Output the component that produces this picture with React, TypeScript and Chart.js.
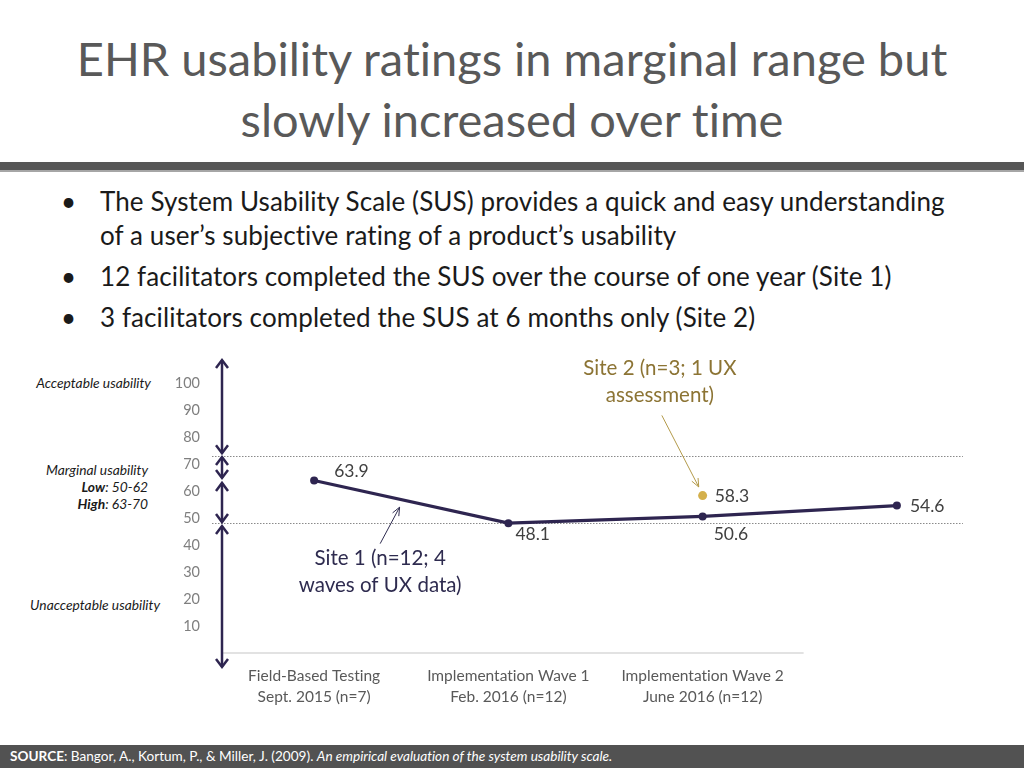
import React, { useEffect, useRef } from "react";
import { Chart, registerables } from "chart.js";

Chart.register(...registerables);

// ---- data ----
const categories: string[][] = [
  ["Field-Based Testing", "Sept. 2015 (n=7)"],
  ["Implementation Wave 1", "Feb. 2016 (n=12)"],
  ["Implementation Wave 2", "June 2016 (n=12)"],
];
const site1Values = [63.9, 48.1, 50.6, 54.6];
const site2Values: (number | null)[] = [null, null, 58.3, null];
const yMin = 0;
const yMax = 100;
const yStep = 10;
// zone boundaries (dotted lines) and the double-arrow spans on the y scale
const zoneLines = [73, 48];
const zoneArrows: [number, number][] = [
  [108.5, 74],
  [72.6, 64.8],
  [63, 48.5],
  [47, -5.2],
];
const site1Label = ["Site 1 (n=12; 4", "waves of UX data)"];
const site2Label = ["Site 2 (n=3; 1 UX", "assessment)"];

const FONT = "Lato";
const LINE = "#2e2550";
const GOLD = "#d4b04c";

function vArrow(ctx: CanvasRenderingContext2D, x: number, y1: number, y2: number) {
  const hw = 6, hh = 8;
  ctx.beginPath();
  ctx.moveTo(x, y1);
  ctx.lineTo(x, y2);
  ctx.stroke();
  ctx.beginPath();
  ctx.moveTo(x - hw, y1 + hh);
  ctx.lineTo(x, y1);
  ctx.lineTo(x + hw, y1 + hh);
  ctx.stroke();
  ctx.beginPath();
  ctx.moveTo(x - hw, y2 - hh);
  ctx.lineTo(x, y2);
  ctx.lineTo(x + hw, y2 - hh);
  ctx.stroke();
}

function lineArrow(ctx: CanvasRenderingContext2D, x1: number, y1: number, x2: number, y2: number) {
  const a = Math.atan2(y2 - y1, x2 - x1);
  const h = 9, s = 0.4;
  ctx.beginPath();
  ctx.moveTo(x1, y1);
  ctx.lineTo(x2, y2);
  ctx.stroke();
  ctx.beginPath();
  ctx.moveTo(x2 - h * Math.cos(a - s), y2 - h * Math.sin(a - s));
  ctx.lineTo(x2, y2);
  ctx.lineTo(x2 - h * Math.cos(a + s), y2 - h * Math.sin(a + s));
  ctx.stroke();
}

const overlayPlugin = {
  id: "overlay",
  beforeDatasetsDraw(chart: any) {
    const ctx: CanvasRenderingContext2D = chart.ctx;
    const xs = chart.scales.x;
    const ys = chart.scales.y;
    const area = chart.chartArea;
    ctx.save();
    // x axis base line (only under the three categories)
    ctx.strokeStyle = "#d9d9d9";
    ctx.lineWidth = 1.5;
    ctx.beginPath();
    ctx.moveTo(area.left + 5, ys.getPixelForValue(0));
    ctx.lineTo(xs.getPixelForValue(2.52), ys.getPixelForValue(0));
    ctx.stroke();
    // dotted zone lines
    ctx.strokeStyle = "#8a8a8a";
    ctx.lineWidth = 1;
    ctx.setLineDash([1.5, 1.5]);
    zoneLines.forEach((v) => {
      const y = Math.round(ys.getPixelForValue(v)) + 0.5;
      ctx.beginPath();
      ctx.moveTo(area.left - 5, y);
      ctx.lineTo(xs.getPixelForValue(3.34), y);
      ctx.stroke();
    });
    ctx.restore();
  },
  afterDraw(chart: any) {
    const ctx: CanvasRenderingContext2D = chart.ctx;
    const xs = chart.scales.x;
    const ys = chart.scales.y;
    const area = chart.chartArea;
    ctx.save();
    // zone double arrows
    ctx.strokeStyle = LINE;
    ctx.lineWidth = 2.5;
    zoneArrows.forEach(([a, b]) => {
      vArrow(ctx, area.left + 5, ys.getPixelForValue(a), ys.getPixelForValue(b));
    });
    // data labels
    ctx.fillStyle = "#404040";
    ctx.font = `17.5px ${FONT}`;
    ctx.textBaseline = "middle";
    ctx.textAlign = "left";
    const m1 = chart.getDatasetMeta(0).data;
    const offs: [number, number][] = [
      [20, -9],
      [7, 11],
      [11, 18],
      [13, 1],
    ];
    site1Values.forEach((v, i) => {
      const p = m1[i];
      if (!p) return;
      ctx.fillText(v.toFixed(1), p.x + offs[i][0], p.y + offs[i][1]);
    });
    const m2 = chart.getDatasetMeta(1).data;
    site2Values.forEach((v, i) => {
      if (v == null) return;
      const p = m2[i];
      if (!p) return;
      ctx.fillText(v.toFixed(1), p.x + 12, p.y + 1);
    });
    // Site 1 annotation
    ctx.font = `20.5px ${FONT}`;
    ctx.textAlign = "center";
    ctx.fillStyle = "#2e2b4f";
    const s1x = xs.getPixelForValue(0.34);
    ctx.fillText(site1Label[0], s1x, ys.getPixelForValue(35));
    ctx.fillText(site1Label[1], s1x, ys.getPixelForValue(25));
    ctx.strokeStyle = "#2e2b4f";
    ctx.lineWidth = 1;
    lineArrow(ctx, xs.getPixelForValue(0.34), ys.getPixelForValue(40.5), xs.getPixelForValue(0.44), ys.getPixelForValue(54));
    // Site 2 annotation
    ctx.fillStyle = "#8c7434";
    const s2x = xs.getPixelForValue(1.78);
    ctx.fillText(site2Label[0], s2x, ys.getPixelForValue(105.5));
    ctx.fillText(site2Label[1], s2x, ys.getPixelForValue(95.5));
    ctx.strokeStyle = "#b39a4a";
    lineArrow(ctx, xs.getPixelForValue(1.79), ys.getPixelForValue(88), xs.getPixelForValue(1.98), ys.getPixelForValue(61.5));
    ctx.restore();
  },
};

function ChartCanvas() {
  const ref = useRef<HTMLCanvasElement>(null);
  useEffect(() => {
    if (!ref.current) return;
    const chart = new Chart(ref.current, {
      type: "line",
      data: {
        datasets: [
          {
            label: "Site 1",
            data: site1Values.map((v, i) => ({ x: i, y: v })),
            borderColor: LINE,
            backgroundColor: LINE,
            borderWidth: 3.2,
            pointRadius: 4,
            pointBackgroundColor: LINE,
            pointBorderWidth: 0,
            clip: false as any,
          },
          {
            label: "Site 2",
            data: site2Values.map((v, i) => ({ x: i, y: v })) as any,
            showLine: false,
            pointRadius: 4.5,
            pointBackgroundColor: GOLD,
            pointBorderWidth: 0,
            borderColor: GOLD,
            backgroundColor: GOLD,
            clip: false as any,
          },
        ],
      },
      options: {
        animation: false,
        responsive: false,
        devicePixelRatio: 1,
        layout: { padding: { left: 157, right: 30, top: 383, bottom: 55 } },
        plugins: { legend: { display: false }, tooltip: { enabled: false } },
        scales: {
          x: {
            type: "linear",
            min: -0.5,
            max: 3.5,
            afterBuildTicks: (s: any) => {
              s.ticks = categories.map((_, i) => ({ value: i }));
            },
            afterFit: (s: any) => {
              s.height = 60;
            },
            grid: { display: false, drawTicks: false },
            border: { display: false },
            ticks: {
              padding: 12,
              color: "#595959",
              font: { family: FONT, size: 15.5, lineHeight: 1.36 },
              maxRotation: 0,
              autoSkip: false,
              callback: (v: any) => categories[Math.round(Number(v))] ?? "",
            },
          },
          y: {
            min: yMin,
            max: yMax,
            afterFit: (s: any) => {
              s.width = 60;
            },
            grid: { display: false, drawTicks: false },
            border: { display: false },
            ticks: {
              stepSize: yStep,
              padding: 17,
              color: "#7f7f7f",
              font: { family: FONT, size: 14.5 },
              callback: (v: any) => (Number(v) === 0 ? "" : String(v)),
            },
          },
        },
      },
      plugins: [overlayPlugin],
    } as any);
    return () => chart.destroy();
  }, []);
  return (
    <canvas
      ref={ref}
      width={1024}
      height={768}
      style={{ position: "absolute", left: 0, top: 0, width: 1024, height: 768 }}
    />
  );
}

const abs = (o: React.CSSProperties): React.CSSProperties => ({ position: "absolute", ...o });

export default function App() {
  const bulletFont: React.CSSProperties = {
    fontFamily: FONT,
    fontSize: 26,
    letterSpacing: "0.1px",
    lineHeight: "34px",
    color: "#1a1a1a",
    whiteSpace: "nowrap",
    fontVariantLigatures: "none",
  };
  const leftLab: React.CSSProperties = {
    fontFamily: FONT,
    fontStyle: "italic",
    fontSize: 13.8,
    lineHeight: "17px",
    color: "#1a1a1a",
    textAlign: "right",
    whiteSpace: "nowrap",
  };
  return (
    <div
      style={{
        position: "absolute",
        left: 0,
        top: 0,
        width: 1024,
        height: 768,
        overflow: "hidden",
        background: "#ffffff",
        fontFamily: FONT,
        fontVariantLigatures: "none",
      }}
    >
      <div
        style={abs({
          left: 0,
          top: 28,
          width: 1024,
          textAlign: "center",
          fontSize: 47,
          lineHeight: "61px",
          color: "#595959",
          whiteSpace: "nowrap",
        })}
      >
        EHR usability ratings in marginal range but
        <br />
        slowly increased over time
      </div>
      <div style={abs({ left: 0, top: 162, width: 1024, height: 8, background: "#565656" })} />
      <div style={abs({ left: 0, top: 170, width: 1024, height: 1.5, background: "#a6a6a6" })} />

      <div style={abs({ left: 61, top: 184, ...bulletFont })}>•</div>
      <div style={abs({ left: 100, top: 184, ...bulletFont })}>
        The System Usability Scale (SUS) provides a quick and easy understanding
        <br />
        of a user’s subjective rating of a product’s usability
      </div>
      <div style={abs({ left: 61, top: 259, ...bulletFont })}>•</div>
      <div style={abs({ left: 100, top: 259, ...bulletFont })}>
        12 facilitators completed the SUS over the course of one year (Site 1)
      </div>
      <div style={abs({ left: 61, top: 300, ...bulletFont })}>•</div>
      <div style={abs({ left: 100, top: 300, ...bulletFont })}>
        3 facilitators completed the SUS at 6 months only (Site 2)
      </div>

      <div style={abs({ right: 1024 - 151, top: 374, ...leftLab })}>Acceptable usability</div>
      <div style={abs({ right: 1024 - 148, top: 461, ...leftLab })}>
        Marginal usability
        <br />
        <b>Low</b>: 50-62
        <br />
        <b>High</b>: 63-70
      </div>
      <div style={abs({ right: 1024 - 160, top: 596, ...leftLab })}>Unacceptable usability</div>

      <ChartCanvas />

      <div
        style={abs({
          left: 0,
          top: 745,
          width: 1024,
          height: 23,
          background: "#525252",
          color: "#ffffff",
          fontSize: 13.6,
          lineHeight: "23px",
          paddingLeft: 10,
          boxSizing: "border-box",
          whiteSpace: "nowrap",
        })}
      >
        <b>SOURCE</b>: Bangor, A., Kortum, P., &amp; Miller, J. (2009).{" "}
        <i>An empirical evaluation of the system usability scale.</i>
      </div>
    </div>
  );
}
